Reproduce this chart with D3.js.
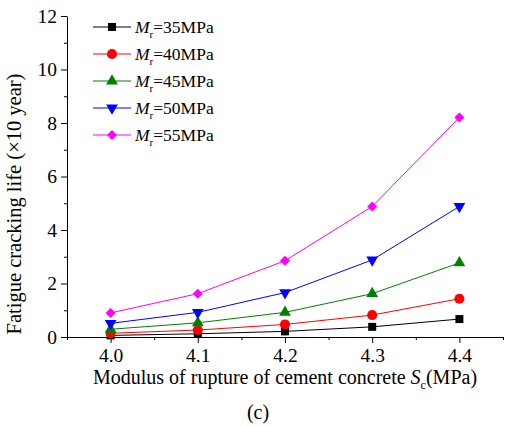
<!DOCTYPE html>
<html>
<head>
<meta charset="utf-8">
<script src="https://cdn.jsdelivr.net/npm/d3@7/dist/d3.min.js"></script>
<style>
  body { margin: 0; background: #fff; }
  svg text { font-family: "Liberation Serif", "Times New Roman", serif; fill: #000; }
</style>
</head>
<body>
<svg id="chart" width="507" height="426"></svg>
<script>
// data
const strength = [4.0, 4.1, 4.2, 4.3, 4.4];
const mr35 = [0.06, 0.12, 0.21, 0.38, 0.67];
const mr40 = [0.14, 0.26, 0.47, 0.82, 1.43];
const mr45 = [0.29, 0.53, 0.92, 1.62, 2.77];
const mr50 = [0.51, 0.92, 1.66, 2.88, 4.88];
const mr55 = [0.90, 1.62, 2.85, 4.88, 8.21];
const seriesNames = ["35MPa", "40MPa", "45MPa", "50MPa", "55MPa"];
const yTicks = [0, 2, 4, 6, 8, 10, 12];

const series = [
  { name: seriesNames[0], values: mr35, color: "#000000", symbol: d3.symbolSquare, size: 64, rot: 0 },
  { name: seriesNames[1], values: mr40, color: "#ff0000", symbol: d3.symbolCircle, size: 80, rot: 0 },
  { name: seriesNames[2], values: mr45, color: "#008000", symbol: d3.symbolTriangle, size: 60, rot: 0 },
  { name: seriesNames[3], values: mr50, color: "#0000ff", symbol: d3.symbolTriangle, size: 60, rot: 180 },
  { name: seriesNames[4], values: mr55, color: "#ff00ff", symbol: d3.symbolSquare, size: 50, rot: 45 }
];

const svg = d3.select("#chart");
const x0 = 67, x1 = 503, y0 = 337, y1 = 16;

const xScale = d3.scaleLinear().domain([3.95, 4.45]).range([x0, x1]);
const yScale = d3.scaleLinear().domain([0, 12]).range([y0, y1]);

// x axis
const xAxis = d3.axisBottom(xScale)
  .tickValues(strength)
  .tickFormat(d3.format(".1f"))
  .tickSize(6).tickSizeOuter(0);
const gx = svg.append("g").attr("transform", `translate(0,${y0})`).call(xAxis);
gx.select(".domain").attr("stroke", "#000");
gx.selectAll("text").attr("font-size", 19.5).attr("dy", "0.82em");

const gxMinor = svg.append("g").attr("transform", `translate(0,${y0})`)
  .call(d3.axisBottom(xScale).tickValues([3.95, 4.05, 4.15, 4.25, 4.35, 4.45]).tickSize(3).tickFormat(""));
gxMinor.select(".domain").remove();

// y axis
const yAxis = d3.axisLeft(yScale).tickValues(yTicks).tickSize(6).tickSizeOuter(0).tickFormat(d3.format("d"));
const gy = svg.append("g").attr("transform", `translate(${x0},0)`).call(yAxis);
gy.select(".domain").attr("stroke", "#000");
gy.selectAll("text").attr("font-size", 19.5).attr("x", -10);

const gyMinor = svg.append("g").attr("transform", `translate(${x0},0)`)
  .call(d3.axisLeft(yScale).tickValues([1, 3, 5, 7, 9, 11]).tickSize(3).tickFormat(""));
gyMinor.select(".domain").remove();

// axis titles
const xt = svg.append("text").attr("x", 285).attr("y", 384).attr("text-anchor", "middle").attr("font-size", 20);
xt.append("tspan").text("Modulus of rupture of cement concrete ");
xt.append("tspan").attr("font-style", "italic").text("S");
xt.append("tspan").attr("font-size", 12).attr("dy", 5).text("c");
xt.append("tspan").attr("dy", -5).text("(MPa)");

svg.append("text")
  .attr("transform", "translate(21,204) rotate(-90)")
  .attr("text-anchor", "middle").attr("font-size", 20.5)
  .text("Fatigue cracking life (×10 year)");

svg.append("text").attr("x", 258).attr("y", 419).attr("text-anchor", "middle").attr("font-size", 20).text("(c)");

// lines & markers
const line = d3.line().x((d, i) => xScale(strength[i])).y(d => yScale(d));

series.forEach(s => {
  svg.append("path").datum(s.values)
    .attr("d", line).attr("fill", "none").attr("stroke", s.color).attr("stroke-width", 1);
  svg.append("g").selectAll("path").data(s.values).join("path")
    .attr("d", d3.symbol().type(s.symbol).size(s.size))
    .attr("transform", (d, i) => `translate(${xScale(strength[i])},${yScale(d)}) rotate(${s.rot})`)
    .attr("fill", s.color);
});

// legend
const legend = svg.append("g");
series.forEach((s, i) => {
  const ly = 27 + i * 27;
  legend.append("line").attr("x1", 93).attr("x2", 131).attr("y1", ly).attr("y2", ly)
    .attr("stroke", s.color).attr("stroke-width", 1);
  legend.append("path").attr("d", d3.symbol().type(s.symbol).size(s.size))
    .attr("transform", `translate(112,${ly}) rotate(${s.rot})`).attr("fill", s.color);
  const t = legend.append("text").attr("x", 135).attr("y", ly + 6).attr("font-size", 17.5);
  t.append("tspan").attr("font-style", "italic").text("M");
  t.append("tspan").attr("font-size", 11).attr("dy", 5).text("r");
  t.append("tspan").attr("dy", -5).text("=" + s.name);
});
</script>
</body>
</html>
